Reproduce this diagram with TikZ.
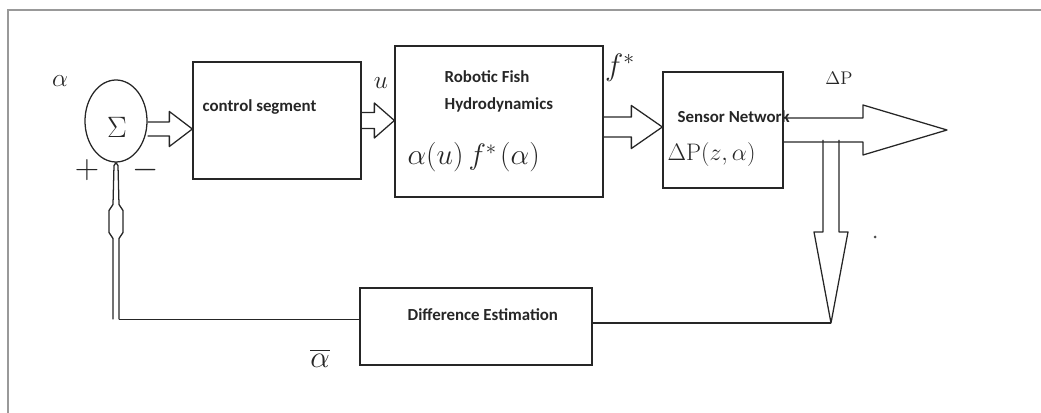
\RequirePackage{fix-cm}
\documentclass[tikz,border=0pt]{standalone}
\usepackage{amsmath}
\usepackage{fontspec}
\setsansfont{Carlito}
\usetikzlibrary{calc}
\usetikzlibrary{shapes.geometric}

% hollow arrow pointing right, tip at the x of #2
\newcommand{\fatright}[5]{%
  \draw[fat] (#1) ++(0,-#3) -- ($(#1 -| #2)+(-#5,-#3)$) -- ($(#1 -| #2)+(-#5,-#4)$)
    -- (#1 -| #2) -- ($(#1 -| #2)+(-#5,#4)$) -- ($(#1 -| #2)+(-#5,#3)$) -- ($(#1)+(0,#3)$);}
% hollow arrow pointing down, tip at the y of #2
\newcommand{\fatdown}[5]{%
  \draw[fat] (#1) ++(-#3,0) -- ($(#1 |- #2)+(-#3,-#5)$) -- ($(#1 |- #2)+(-#4,-#5)$)
    -- (#1 |- #2) -- ($(#1 |- #2)+(#4,-#5)$) -- ($(#1 |- #2)+(#3,-#5)$) -- ($(#1)+(#3,0)$);}

\tikzset{
  block/.style={draw=black!85, line width=0.9pt, inner sep=0pt},
  wire/.style={draw=black!85, line width=0.9pt},
  fat/.style={draw=black!85, line width=0.9pt, line join=round},
  lbl/.style={font=\sffamily\bfseries\fontsize{12}{14}\selectfont, text=black!85, inner sep=0pt, anchor=west},
  hand/.style={inner sep=0pt, text=black!85},
}

\begin{document}
\begin{tikzpicture}[x=0.025cm, y=-0.025cm]
    \useasboundingbox (0,0) rectangle (1041,413);
    \draw[gray!80, line width=1.4pt] (8,413) -- (8,10) -- (1041,10);

    % summing junction
    \node[block, ellipse, minimum width=62*0.025cm, minimum height=82*0.025cm] (sum) at (116,121) {};
    \node[hand, font=\fontsize{21}{21}\selectfont] (sigma) at (117,127) {$\Sigma$};
    \node[hand, font=\fontsize{18}{18}\selectfont] (alpha) at (60,81) {$\alpha$};
    \node[hand, font=\fontsize{24}{24}\selectfont] (plus) at (87,170) {$+$};
    \node[hand, font=\fontsize{24}{24}\selectfont] (minus) at (146,170) {$-$};

    % blocks
    \node[block, minimum width=168*0.025cm, minimum height=117*0.025cm] (ctrl) at (277,120.5) {};
    \node[block, minimum width=208*0.025cm, minimum height=151*0.025cm] (rob) at (499,121.5) {};
    \node[block, minimum width=120*0.025cm, minimum height=116*0.025cm] (sens) at (723,130) {};
    \node[block, minimum width=232*0.025cm, minimum height=77*0.025cm] (diff) at (476,326.5) {};

    \node[lbl] (ctrltxt) at ($(ctrl.north west)+(10,46)$) {control segment};
    \node[lbl] (robtxt) at ($(rob.north west)+(50,31)$) {Robotic Fish};
    \node[lbl] (hydtxt) at ($(rob.north west)+(50,60)$) {Hydrodynamics};
    \node[hand, anchor=west, font=\fontsize{21}{21}\selectfont] (robeq) at ($(rob.north west)+(13,112)$) {$\alpha(u)\,f^{*}\!\;(\alpha)$};
    \node[lbl] (senstxt) at ($(sens.north west)+(15,45)$) {Sensor Network};
    \node[hand, anchor=west, font=\fontsize{17}{17}\selectfont] (senseq) at ($(sens.north west)+(5,83)$) {$\Delta\mathrm{P}(z,\alpha)$};
    \node[lbl] (difftxt) at ($(diff.north west)+(48,27)$) {Difference Estimation};

    % signal names
    \node[hand, font=\fontsize{18}{18}\selectfont] (ulab) at (381,83) {$u$};
    \node[hand, font=\fontsize{22}{22}\selectfont] (flab) at (620,68) {$f^{*}$};
    \node[hand, font=\fontsize{13}{13}\selectfont] (dplab) at (839,78) {$\Delta\mathrm{P}$};
    \node[hand, font=\fontsize{22}{22}\selectfont] (ablab) at (320,358) {$\overline{\alpha}$};

    % forward path
    \coordinate (a1) at ($(sum.east)+(0,8)$);
    \coordinate (a3) at ($(rob.east)+(0,5.5)$);
    \coordinate (out) at (947,130);
    \fatright{a1}{ctrl.west}{7}{17.5}{23}
    \fatright{ctrl.east}{rob.west}{8}{17.5}{20}
    \fatright{a3}{sens.west}{10}{21.5}{31}
    \fatright{sens.east}{out}{12}{25}{84}

    % feedback path
    \coordinate (tap) at (831,140);
    \coordinate (fb) at (831,323);
    \fatdown{tap}{fb}{8}{17}{91}
    \draw[wire] (fb) -- (fb -| diff.east);
    \coordinate (dl) at ($(diff.west)+(0,-7)$);
    \coordinate (corner) at (dl -| sum.south);
    \draw[wire] (dl) -- ($(corner)+(3,0)$);
    \draw[fat] ($(corner)+(-3,0)$) -- ($(corner)+(-3,-81)$) -- ++(-4,-6) -- ++(0,-22) -- ++(4,-6)
      -- ($(sum.south)+(-2,3)$) -- (sum.south) -- ($(sum.south)+(2,3)$)
      -- ($(corner)+(3,-115)$) -- ++(4,6) -- ++(0,22) -- ++(-4,6) -- ($(corner)+(3,0)$);
    \fill[black!70] (875,237) circle (1.5);
\end{tikzpicture}
\end{document}
